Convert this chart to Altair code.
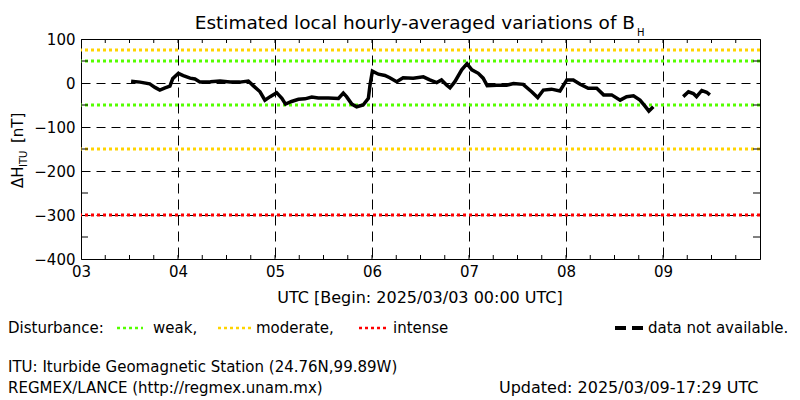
import altair as alt
import pandas as pd

# ---- data (hours since 2025/03/03 00:00 UTC, nT) ----
hours_a = [12.4, 14.6, 17.0, 18.3, 19.5, 20.8, 22.0, 22.7, 24.1, 25.3, 27.0, 28.2, 29.4,
           32.0, 34.4, 36.9, 39.3, 41.4, 42.6, 44.3, 45.5, 46.8, 48.4, 49.7, 50.6, 52.1,
           53.8, 55.4, 57.1, 58.7, 61.2, 63.7, 64.9, 65.7, 67.0, 68.2, 69.8, 71.1, 71.5,
           72.1, 73.6, 75.2, 76.4, 78.1, 79.7, 82.2, 84.7, 86.3, 88.0, 89.2, 90.5, 91.3,
           92.5, 94.2, 95.5, 96.7, 98.3, 99.5, 100.5, 102.8, 105.3, 107.0, 109.4, 111.5,
           113.0, 114.4, 116.4, 118.5, 120.2, 121.8, 123.5, 125.5, 127.6, 129.3, 131.3,
           133.4, 135.0, 136.7, 138.3, 139.5, 140.5, 141.6]
vals_a = [4, 2, -2, -10, -16, -11, -7, 10, 22, 17, 11, 9, 2.5,
          3, 4.5, 2.5, 2, 4.5, -6, -20, -39, -31, -22, -35, -48, -42,
          -37, -36, -32, -34, -34, -35, -23, -31, -48, -54, -50, -35, -5,
          27, 20, 17, 12, 3, 12, 11, 14, 7, 1, 7, -5, -11,
          3, 30, 44, 30, 22, 11, -6, -5, -5, -1, -3, -20,
          -33, -16, -14, -18, 7, 7, -3, -12, -12, -27, -27,
          -39, -31, -29, -39, -52, -64, -54]
hours_b = [149.0, 150.3, 151.5, 152.3, 153.6, 154.8, 155.6]
vals_b = [-31, -20, -24, -31, -17, -21, -27]

levels = [75, 50, -50, -150, -300]
level_colors = ["#FFD400", "#55FF00", "#55FF00", "#FFD400", "#FF0000"]

day_ticks = [0, 24, 48, 72, 96, 120, 144]
minor_x = [h for h in range(6, 168, 6)]
minor_y = [50, -50, -150, -250, -350]
y_labels = [100, 0, -100, -200, -300, -400]

W, H = 679, 220
FONT = "DejaVu Sans"

xs = alt.Scale(domain=[0, 168], nice=False, zero=False)
ys = alt.Scale(domain=[-400, 100], nice=False, zero=False)

AX = alt.Axis(
    values=day_ticks, labelExpr="'0' + (3 + datum.value/24)",
    grid=True, gridColor="black", gridDash=[10, 6], gridOpacity=1, gridWidth=1,
    ticks=False, domain=False, labelFontSize=15, labelFont=FONT, labelColor="black",
    labelPadding=5, title=None, labelFlush=False, labelOverlap=False)
AY = alt.Axis(
    values=y_labels, grid=True, gridColor="black", gridDash=[9, 6], gridOpacity=1,
    gridWidth=1, ticks=False, domain=False, labelFontSize=15, labelFont=FONT,
    labelColor="black", labelPadding=6, title=None, labelFlush=False,
    labelOverlap=False)

line_df = pd.DataFrame({
    "h": hours_a + hours_b,
    "v": vals_a + vals_b,
    "seg": ["a"] * len(hours_a) + ["b"] * len(hours_b),
})
lev_df = pd.DataFrame({"v": levels, "c": level_colors})
one = pd.DataFrame({"a": [0]})

lev_layer = alt.Chart(lev_df).mark_rule(strokeDash=[3, 3], strokeWidth=3).encode(
    y=alt.Y("v:Q", scale=ys, axis=AY),
    color=alt.Color("c:N", scale=None),
)

mx = pd.DataFrame({"h": minor_x})
my = pd.DataFrame({"v": minor_y})
tick_bot = alt.Chart(mx).mark_rule(color="black", strokeWidth=1).encode(
    x=alt.X("h:Q", scale=xs, axis=AX), y=alt.value(H), y2=alt.value(H - 4))
tick_top = alt.Chart(mx).mark_rule(color="black", strokeWidth=1).encode(
    x=alt.X("h:Q", scale=xs, axis=AX), y=alt.value(0), y2=alt.value(4))
tick_l = alt.Chart(my).mark_rule(color="black", strokeWidth=1).encode(
    y=alt.Y("v:Q", scale=ys, axis=AY), x=alt.value(0), x2=alt.value(7))
tick_r = alt.Chart(my).mark_rule(color="black", strokeWidth=1).encode(
    y=alt.Y("v:Q", scale=ys, axis=AY), x=alt.value(W - 7), x2=alt.value(W))

line_layer = alt.Chart(line_df).mark_line(color="black", strokeWidth=3.5).encode(
    x=alt.X("h:Q", scale=xs, axis=AX),
    y=alt.Y("v:Q", scale=ys, axis=AY),
    detail="seg:N",
)


def txt(s, x, y, size=15, align="left", angle=0, baseline="middle"):
    return alt.Chart(one).mark_text(
        text=s, font=FONT, fontSize=size, align=align, angle=angle,
        baseline=baseline, color="black"
    ).encode(x=alt.value(x), y=alt.value(y))


def samp(x1, x2, y, color, dash, width):
    return alt.Chart(one).mark_rule(color=color, strokeDash=dash, strokeWidth=width).encode(
        x=alt.value(x1), x2=alt.value(x2), y=alt.value(y))


texts = [
    txt("Estimated local hourly-averaged variations of B", 554, -16, size=18.5, align="right"),
    txt("H", 556, -6, size=10),
    txt("ΔH", -58, 149, size=15, angle=270, baseline="alphabetic"),
    txt("ITU", -54, 128, size=10, angle=270, baseline="alphabetic"),
    txt("[nT]", -58, 104, size=15, angle=270, baseline="alphabetic"),
    txt("UTC [Begin: 2025/03/03 00:00 UTC]", 339, 259, size=16, align="center"),
    txt("Disturbance:", -73, 289),
    txt("weak,", 72, 289),
    txt("moderate,", 175, 289),
    txt("intense", 312, 289),
    txt("data not available.", 567, 289),
    txt("ITU: Iturbide Geomagnetic Station (24.76N,99.89W)", -73, 328),
    txt("REGMEX/LANCE (http://regmex.unam.mx)", -73, 349),
    txt("Updated: 2025/03/09-17:29 UTC", 418, 349, size=16),
    samp(36, 62, 289, "#55FF00", [3, 3], 2.5),
    samp(137, 170, 289, "#FFD400", [3, 3], 2.5),
    samp(278, 307, 289, "#FF0000", [3, 3], 2.5),
    samp(534, 562, 289, "black", [11, 6], 4),
]

chart = alt.layer(
    lev_layer, tick_bot, tick_top, tick_l, tick_r, line_layer, *texts
).properties(
    width=W, height=H,
    autosize=alt.AutoSizeParams(type="none"),
    padding={"left": 73, "top": 31, "right": 32, "bottom": 139},
    background="white",
).configure_view(stroke="black", strokeWidth=1)

chart.save("out.html", embed_options={"renderer": "svg", "actions": False})
